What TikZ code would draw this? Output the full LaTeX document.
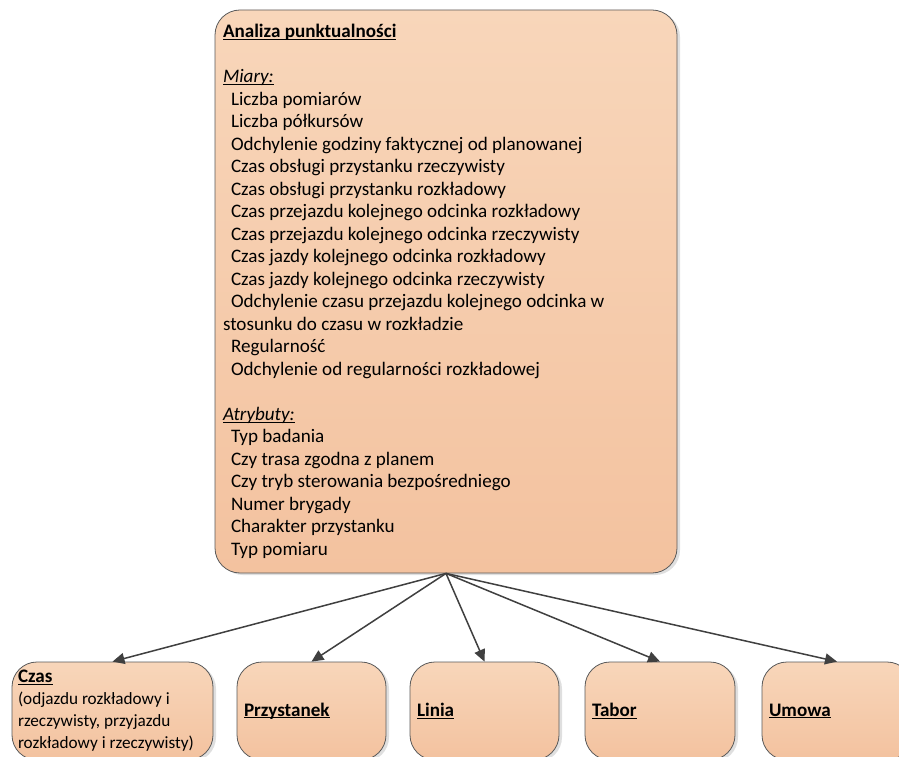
\documentclass[tikz,border=0pt]{standalone}
\usepackage{fontspec}
\setmainfont{Carlito}
\usepackage{xcolor}
\definecolor{PunktTop}{HTML}{F8D6BA}
\definecolor{PunktBottom}{HTML}{F3C29F}
\definecolor{PunktEdge}{HTML}{5A5A5A}
\definecolor{PunktArrow}{HTML}{404040}
\usepackage{tikz}
\usetikzlibrary{positioning,arrows.meta,shadows}
\newcommand{\ulhead}[1]{\underline{\smash{#1}}\vphantom{#1}}
\newcommand{\pind}{\hspace*{8pt}}
\tikzset{
  pbox/.style={draw=PunktEdge,line width=0.8pt,top color=PunktTop,bottom color=PunktBottom,rounded corners=25pt,align=flush left,inner xsep=7pt,inner ysep=0pt,font=\fontsize{19.1}{22.5}\selectfont,drop shadow={shadow xshift=3pt,shadow yshift=-2pt,opacity=0.25,fill=gray}},
  psmall/.style={pbox,minimum width=149pt,text width=135pt,minimum height=98pt},
  pflow/.style={-{Triangle[length=12pt,width=11pt]},draw=PunktArrow,fill=PunktArrow,line width=1.5pt}
}
\begin{document}
\begin{tikzpicture}[x=1pt,y=1pt]
  \clip (0,0) rectangle (899,756);
  \fill[white] (0,0) rectangle (899,756);
  \node[pbox,minimum width=462pt,minimum height=563pt,inner xsep=8pt,text width=446pt] (analiza) at (446,464.5) {%
    \textbf{\ulhead{Analiza punktualności}}\\[22.5pt]
    \textit{\ulhead{Miary:}}\\
    \pind Liczba pomiarów\\
    \pind Liczba półkursów\\
    \pind Odchylenie godziny faktycznej od planowanej\\
    \pind Czas obsługi przystanku rzeczywisty\\
    \pind Czas obsługi przystanku rozkładowy\\
    \pind Czas przejazdu kolejnego odcinka rozkładowy\\
    \pind Czas przejazdu kolejnego odcinka rzeczywisty\\
    \pind Czas jazdy kolejnego odcinka rozkładowy\\
    \pind Czas jazdy kolejnego odcinka rzeczywisty\\
    \pind Odchylenie czasu przejazdu kolejnego odcinka w\\
    stosunku do czasu w rozkładzie\\
    \pind Regularność\\
    \pind Odchylenie od regularności rozkładowej\\[22.5pt]
    \textit{\ulhead{Atrybuty:}}\\
    \pind Typ badania\\
    \pind Czy trasa zgodna z planem\\
    \pind Czy tryb sterowania bezpośredniego\\
    \pind Numer brygady\\
    \pind Charakter przystanku\\
    \pind Typ pomiaru};
  % wymiary
  \node[psmall,minimum width=201pt,text width=189pt,inner xsep=6pt,font=\fontsize{17.2}{22}\selectfont] (czas) at (112.5,45) {%
    {\fontsize{19.1}{22}\selectfont\textbf{\ulhead{Czas}}}\\
    (odjazdu rozkładowy i\\
    rzeczywisty, przyjazdu\\
    rozkładowy i rzeczywisty)};
  \node[psmall] (przystanek) at (311.5,45) {\textbf{\ulhead{Przystanek}}};
  \node[psmall] (linia) at (484.5,45) {\textbf{\ulhead{Linia}}};
  \node[psmall,minimum width=150pt,text width=136pt] (tabor) at (660,45) {\textbf{\ulhead{Tabor}}};
  \node[psmall,minimum width=150pt,text width=136pt] (umowa) at (837,45) {\textbf{\ulhead{Umowa}}};
  \draw[pflow] (analiza.south) -- (czas.north);
  \draw[pflow] (analiza.south) -- (przystanek.north);
  \draw[pflow] (analiza.south) -- (linia.north);
  \draw[pflow] (analiza.south) -- (tabor.north);
  \draw[pflow] (analiza.south) -- (umowa.north);
\end{tikzpicture}
\end{document}
